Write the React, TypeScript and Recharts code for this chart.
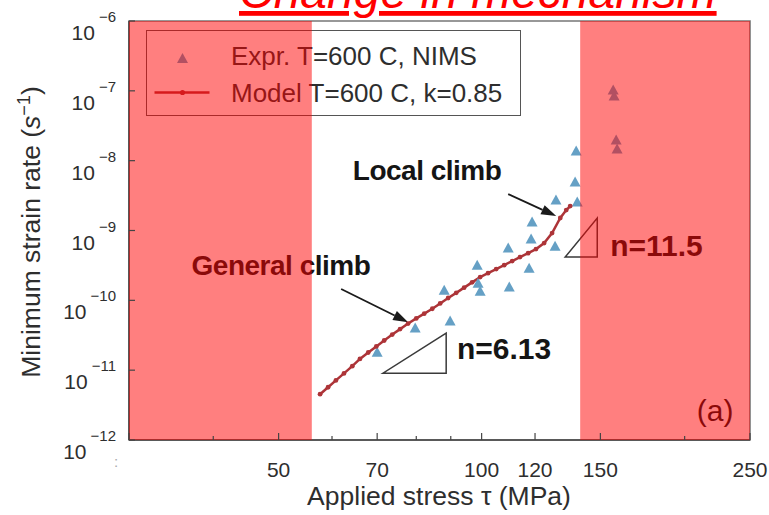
import React from "react"
import {
  ComposedChart,
  XAxis,
  YAxis,
  Line,
  Scatter,
  ReferenceArea,
  ReferenceLine,
  ReferenceDot,
} from "recharts"

const FONT = '"Liberation Sans", Arial, Helvetica, sans-serif'

// Model T=600 C, k=0.85
const modelStress = [
  57.6, 59.2, 60.8, 62.5, 64.3, 66.0, 67.9, 69.8, 71.7, 73.7, 75.7, 77.8, 80.0, 82.2, 84.5, 86.8, 89.2,
  91.7, 94.2, 96.8, 99.5, 102.2, 105.1, 108.0, 111.0, 114.0, 117.2, 120.4, 123.8, 127.2, 130.8, 133.5, 135.3,
]
const modelRate = [
  4.53e-12, 5.69e-12, 7.14e-12, 8.99e-12, 1.14e-11, 1.45e-11, 1.79e-11, 2.19e-11, 2.66e-11, 3.23e-11,
  3.87e-11, 4.65e-11, 5.51e-11, 6.45e-11, 7.58e-11, 9.03e-11, 1.08e-10, 1.28e-10, 1.52e-10, 1.81e-10,
  2.15e-10, 2.45e-10, 2.8e-10, 3.19e-10, 3.65e-10, 4.16e-10, 4.74e-10, 5.42e-10, 6.6e-10, 9.18e-10,
  1.51e-9, 1.96e-9, 2.24e-9,
]

// Expr. T=600 C, NIMS
const exprStress = [
  70.0, 79.7, 89.8, 88.0, 98.8, 99.5, 98.5, 109.9, 109.5, 117.6, 118.4, 118.8, 128.5, 128.9, 138.6, 137.6,
  138.1, 156.7, 157.2, 158.3, 158.8,
]
const exprRate = [
  1.81e-11, 4.0e-11, 5.04e-11, 1.4e-10, 1.76e-10, 1.35e-10, 3.19e-10, 1.55e-10, 5.6e-10, 2.89e-10, 7.53e-10,
  1.32e-9, 5.97e-10, 2.73e-9, 2.55e-9, 4.93e-9, 1.37e-8, 1.03e-7, 8.43e-8, 1.97e-8, 1.47e-8,
]

// shaded "change in mechanism" stress ranges
const bandStart = [30, 56]
const bandEnd = [140, 250]

const xTicks = [30, 40, 50, 60, 70, 80, 90, 100, 120, 150, 200, 250]
const xTickLabels = [":", "", "50", "", "70", "", "", "100", "120", "150", "", "250"]
const yTicks = [1e-12, 1e-11, 1e-10, 1e-9, 1e-8, 1e-7, 1e-6]
const yTickExp = ["−12", "−11", "−10", "−9", "−8", "−7", "−6"]

const modelData = modelStress.map((s, i) => ({ stress: s, rate: modelRate[i] }))
const exprData = exprStress.map((s, i) => ({ stress: s, rate: exprRate[i] }))

const BLUE = "#65a0c5"
const MODEL = "#ad3438"
const AXIS = "#444"
const TEXT = "#2e2e2e"

function XTick(props: any) {
  const { x, y, payload } = props
  const i = xTicks.indexOf(payload.value)
  const label = xTickLabels[i] ?? ""
  const major = label !== ""
  return (
    <g>
      <line x1={x} x2={x} y1={y} y2={y - (major ? 7 : 4)} stroke={AXIS} strokeWidth={1.2} />
      {label === ":" ? (
        <text x={x - 13} y={y + 27} textAnchor="middle" fontSize={15} fill="#aaa" fontFamily={FONT}>
          {label}
        </text>
      ) : (
        <text x={x} y={y + 37} textAnchor="middle" fontSize={21} fill={TEXT} fontFamily={FONT}>
          {label}
        </text>
      )}
    </g>
  )
}

function YTick(props: any) {
  const { x, y, payload } = props
  const i = yTicks.indexOf(payload.value)
  return (
    <g>
      <line x1={x} x2={x + 6} y1={y} y2={y} stroke={AXIS} strokeWidth={1.2} />
      <text x={x - 13} y={y + 19} textAnchor="end" fontSize={21} fill={TEXT} fontFamily={FONT}>
        10
        <tspan dx={4} dy={-18} fontSize={15}>
          {yTickExp[i]}
        </tspan>
      </text>
    </g>
  )
}

function TriangleMark(props: any) {
  const { cx, cy } = props
  if (cx == null || cy == null) return null
  return <polygon points={`${cx},${cy - 5.5} ${cx + 5.5},${cy + 4.5} ${cx - 5.5},${cy + 4.5}`} fill={BLUE} />
}

function arrowShape(p: any) {
  const { x1, y1, x2, y2 } = p
  const dx = x2 - x1
  const dy = y2 - y1
  const len = Math.hypot(dx, dy) || 1
  const ux = dx / len
  const uy = dy / len
  const bx = x2 - ux * 15
  const by = y2 - uy * 15
  return (
    <g>
      <line x1={x1} y1={y1} x2={bx} y2={by} stroke="#1a1a1a" strokeWidth={1.8} />
      <polygon points={`${x2},${y2} ${bx - uy * 5},${by + ux * 5} ${bx + uy * 5},${by - ux * 5}`} fill="#1a1a1a" />
    </g>
  )
}

function slopeShape(p: any) {
  const { x1, y1, x2, y2 } = p
  return <polygon points={`${x1},${y1} ${x2},${y1} ${x2},${y2}`} fill="none" stroke="#3a3a3a" strokeWidth={1.5} />
}

function textShape(text: string, anchor: string, size: number, weight: string, spacing: number) {
  return (p: any) => (
    <text
      x={p.cx}
      y={p.cy}
      textAnchor={anchor}
      dominantBaseline="central"
      fontSize={size}
      fontWeight={weight}
      letterSpacing={spacing}
      fill="#151515"
      fontFamily={FONT}
    >
      {text}
    </text>
  )
}

// annotations, anchored in data coordinates
const arrows = [
  { from: [61.9, 1.45e-10], to: [77.8, 4.87e-11] },
  { from: [109.5, 3.32e-9], to: [129.0, 1.61e-9] },
]
const slopes = [
  { from: [71.4, 9.06e-12], to: [88.6, 3.39e-11] },
  { from: [133.0, 4.16e-10], to: [148.4, 1.51e-9] },
]
const notes = [
  { text: "General climb", at: [50.4, 3.19e-10], anchor: "middle", size: 28, weight: "bold", ls: -0.5 },
  { text: "Local climb", at: [83.0, 7.33e-9], anchor: "middle", size: 28, weight: "bold", ls: -0.5 },
  { text: "n=6.13", at: [91.9, 2.07e-11], anchor: "start", size: 30, weight: "bold", ls: 0 },
  { text: "n=11.5", at: [155.1, 6.18e-10], anchor: "start", size: 30, weight: "bold", ls: 0 },
  { text: "(a)", at: [222.0, 2.67e-12], anchor: "middle", size: 30, weight: "normal", ls: 0 },
]

function LegendBox() {
  return (
    <div
      style={{
        position: "absolute",
        left: 146,
        top: 30,
        width: 373,
        height: 84,
        border: "1.5px solid #555",
        background: "#fff",
        zIndex: 0,
        fontFamily: FONT,
        fontSize: 26,
        lineHeight: "30px",
        color: TEXT,
        whiteSpace: "nowrap",
      }}
    >
      <svg width={80} height={84} style={{ position: "absolute", left: 0, top: 0 }}>
        <polygon points="35.5,22 41,32 30,32" fill={BLUE} />
        <line x1={7.5} x2={62.5} y1={61.5} y2={61.5} stroke={MODEL} strokeWidth={2.5} />
        <circle cx={35.5} cy={61.5} r={2.6} fill={MODEL} />
      </svg>
      <div style={{ position: "absolute", left: 84, top: 10 }}>Expr. T=600 C, NIMS</div>
      <div style={{ position: "absolute", left: 84, top: 47 }}>Model T=600 C, k=0.85</div>
    </div>
  )
}

export default function App() {
  return (
    <div style={{ position: "absolute", left: 0, top: 0, width: 769, height: 515, background: "#fff" }}>
      <LegendBox />
      <div style={{ position: "absolute", left: 0, top: 0, zIndex: 1 }}>
        <ComposedChart width={769} height={515} margin={{ top: 21, right: 19, bottom: 74, left: 128 }}>
          <XAxis
            dataKey="stress"
            type="number"
            scale="log"
            domain={[30, 250]}
            allowDataOverflow
            ticks={xTicks}
            interval={0}
            height={1}
            tickSize={0}
            tickMargin={0}
            tickLine={false}
            tick={<XTick />}
            axisLine={{ stroke: AXIS, strokeWidth: 1.5 }}
          />
          <YAxis
            dataKey="rate"
            type="number"
            scale="log"
            domain={[1e-12, 1e-6]}
            allowDataOverflow
            ticks={yTicks}
            interval={0}
            width={1}
            tickSize={0}
            tickMargin={0}
            tickLine={false}
            tick={<YTick />}
            axisLine={{ stroke: AXIS, strokeWidth: 1.5 }}
          />
          <ReferenceArea x1={30} x2={250} y1={1e-12} y2={1e-6} fill="none" stroke="#777" strokeWidth={1.6} />
          {slopes.map((s, i) => (
            <ReferenceLine
              key={"s" + i}
              segment={[
                { x: s.from[0], y: s.from[1] },
                { x: s.to[0], y: s.to[1] },
              ]}
              shape={slopeShape}
            />
          ))}
          <Scatter data={exprData} dataKey="rate" shape={<TriangleMark />} isAnimationActive={false} />
          <Line
            data={modelData}
            dataKey="rate"
            type="linear"
            stroke={MODEL}
            strokeWidth={2.5}
            dot={{ r: 2.4, fill: MODEL, stroke: MODEL, strokeWidth: 0 }}
            activeDot={false}
            isAnimationActive={false}
          />
          {arrows.map((a, i) => (
            <ReferenceLine
              key={"a" + i}
              segment={[
                { x: a.from[0], y: a.from[1] },
                { x: a.to[0], y: a.to[1] },
              ]}
              shape={arrowShape}
            />
          ))}
          {notes.map((n, i) => (
            <ReferenceDot
              key={"n" + i}
              x={n.at[0]}
              y={n.at[1]}
              r={1}
              shape={textShape(n.text, n.anchor, n.size, n.weight, n.ls)}
            />
          ))}
          <ReferenceArea
            x1={bandStart[0]}
            x2={bandStart[1]}
            y1={1e-12}
            y2={1e-6}
            fill="#ff0000"
            fillOpacity={0.5}
            stroke="none"
            zIndex={1900}
          />
          <ReferenceArea
            x1={bandEnd[0]}
            x2={bandEnd[1]}
            y1={1e-12}
            y2={1e-6}
            fill="#ff0000"
            fillOpacity={0.5}
            stroke="none"
            zIndex={1900}
          />
        </ComposedChart>
      </div>
      <svg width={769} height={515} style={{ position: "absolute", left: 0, top: 0, zIndex: 2, pointerEvents: "none" }}>
        <text
          x={239}
          y={8}
          fontSize={48}
          fontStyle="italic"
          fill="#ff0000"
          fontFamily={FONT}
          style={{ textDecoration: "underline" }}
        >
          Change in mechanism
        </text>
        <text x={439} y={505} textAnchor="middle" fontSize={26.5} fill={TEXT} fontFamily={FONT}>
          Applied stress τ (MPa)
        </text>
        <text
          x={40}
          y={232}
          textAnchor="middle"
          fontSize={26.5}
          fill={TEXT}
          fontFamily={FONT}
          transform="rotate(-90 40 232)"
        >
          Minimum strain rate (<tspan fontStyle="italic">s</tspan>
          <tspan dy={-10} fontSize={18}>
            −1
          </tspan>
          <tspan dy={10}>)</tspan>
        </text>
      </svg>
    </div>
  )
}
